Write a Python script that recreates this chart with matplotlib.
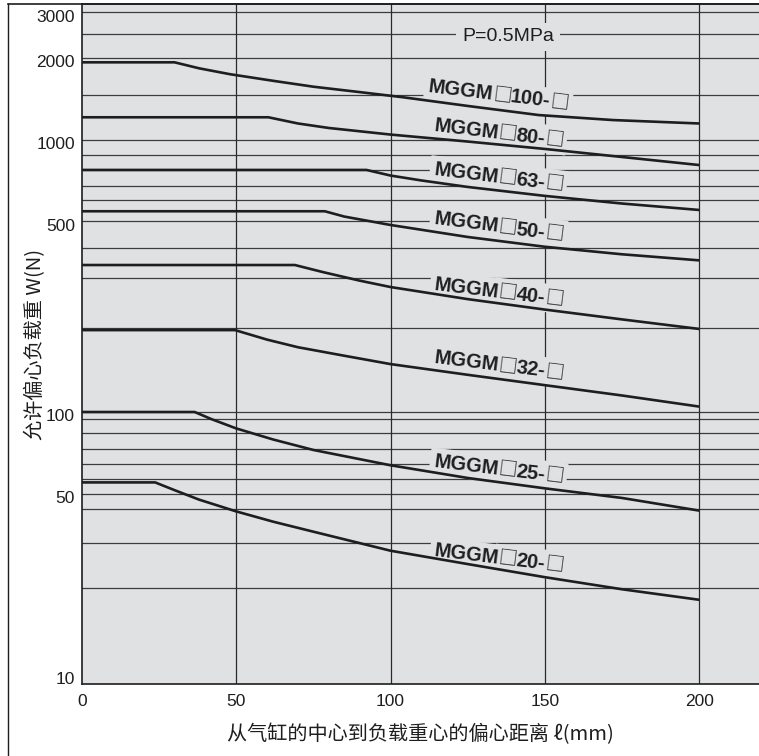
import numpy as np
import matplotlib
matplotlib.use("Agg")
import matplotlib.pyplot as plt
import matplotlib.transforms as mtransforms
from matplotlib.lines import Line2D

# ---- data (P=0.5MPa) ----
models = ["100", "80", "63", "50", "40", "32", "25", "20"]

x_100 = [0, 30, 38, 48, 62, 75, 90, 104, 125, 148, 172, 200]
w_100 = [1930, 1930, 1834, 1745, 1650, 1570, 1500, 1436, 1334, 1235, 1184, 1150]

x_80 = [0, 60.4, 70, 80, 100, 125, 150, 175, 200]
w_80 = [1212, 1212, 1150, 1107, 1047, 987, 927, 866, 809]

x_63 = [0, 92.2, 100, 110, 125, 150, 175, 200]
w_63 = [776, 776, 740, 710, 672, 623, 584, 553]

x_50 = [0, 78.7, 85, 100, 125, 150, 175, 200]
w_50 = [547, 547, 523, 487, 440, 405, 380, 361]

x_40 = [0, 69, 78, 90, 100, 125, 150, 175, 200]
w_40 = [347, 347, 327, 304, 288, 260, 238, 219, 202]

x_32 = [0, 49.6, 60, 70, 85, 100, 125, 150, 175, 200]
w_32 = [200, 200, 184.5, 173, 161, 150, 137, 125.5, 115, 104.7]

x_25 = [0, 36.5, 42, 50, 62, 75, 100, 125, 150, 175, 200]
w_25 = [100, 100, 94.1, 87, 79.2, 72.5, 63.7, 57.2, 52.4, 48.3, 43.4]

x_20 = [0, 23.7, 30, 38, 50, 62, 75, 100, 125, 150, 175, 200]
w_20 = [55.1, 55.1, 51.6, 47.6, 43.1, 39.5, 36.3, 30.9, 27.6, 24.7, 22.3, 20.4]

series_x = [x_100, x_80, x_63, x_50, x_40, x_32, x_25, x_20]
series_w = [w_100, w_80, w_63, w_50, w_40, w_32, w_25, w_20]

# label centre heights (W) for each curve name
label_w = [1463, 1061, 731, 479, 276, 148, 61.6, 29.0]

# horizontal rules of the printed grid (not at round values in the original)
hgrid = [2965, 2450, 2010, 1465, 1000, 880, 775, 680, 600, 505, 400, 310,
         203, 100, 94.5, 83.5, 73, 64.4, 56.6, 50, 43.9, 33, 22.5]
vgrid = [50, 100, 150, 200]

yticks = [10, 50, 100, 500, 1000, 2000, 3000]
xticks = [0, 50, 100, 150, 200]

bg = "#e0e1e3"
ink = "#1e1e1e"
latin = ["Liberation Sans", "DejaVu Sans"]
cjk = ["Noto Sans CJK SC", "DejaVu Sans"]

fig = plt.figure(figsize=(7.59, 7.56), dpi=100)
ax = fig.add_axes([82 / 759, 72 / 756, 677 / 759, 680 / 756])
ax.set_facecolor(bg)
ax.set_yscale("log")
ax.set_xlim(0, 219.4)
ax.set_ylim(10, 3162)

for v in hgrid:
    ax.axhline(v, color="#3c3c3c", lw=0.9, zorder=1)
for v in vgrid:
    ax.axvline(v, color="#2a2a2a", lw=0.9, zorder=1)

for xs, ws in zip(series_x, series_w):
    ax.plot(xs, ws, color=ink, lw=1.9, solid_capstyle="butt", solid_joinstyle="round", zorder=4)

# curve names: bold letters, thin open squares, written along a slight slope
renderer = fig.canvas.get_renderer()
ang = -7.0
ca, sa = np.cos(np.deg2rad(ang)), np.sin(np.deg2rad(ang))
box = dict(boxstyle="square,pad=0.2", facecolor=bg, edgecolor="none")


def curve_label(xc, wc, name):
    parts = [("MGGM", dict(family=latin, fontweight="bold", fontsize=14.5)),
             ("\u25a1", dict(family=cjk, fontweight="normal", fontsize=13.5)),
             (name + "-", dict(family=latin, fontweight="bold", fontsize=14.5)),
             ("\u25a1", dict(family=cjk, fontweight="normal", fontsize=13.5))]
    widths = []
    for s, kw in parts:
        t = ax.text(0, 0, s, **kw)
        widths.append(t.get_window_extent(renderer).width)
        t.remove()
    gap = -0.5
    pos = -(sum(widths) + gap * 3) / 2
    for (s, kw), wd in zip(parts, widths):
        dx = pos * ca + 5.5 * sa
        dy = pos * sa - 5.5 * ca
        tr = mtransforms.offset_copy(ax.transData, fig=fig, x=dx, y=dy, units="dots")
        # background patch first, glyphs on top so no piece hides another
        ax.text(xc, wc, s, transform=tr, rotation=ang, rotation_mode="anchor",
                ha="left", va="baseline", color="none", zorder=2.5, bbox=box, **kw)
        ax.text(xc, wc, s, transform=tr, rotation=ang, rotation_mode="anchor",
                ha="left", va="baseline", color=ink, zorder=3, **kw)
        pos += wd + gap


for name, wl in zip(models, label_w):
    curve_label(135, wl, name)

ax.text(138, 2392, "P=0.5MPa", fontsize=14, family=latin,
        color=ink, ha="center", va="center", zorder=3,
        bbox=dict(boxstyle="square,pad=0.3", facecolor=bg, edgecolor="none"))

ax.yaxis.set_minor_locator(matplotlib.ticker.NullLocator())
ax.set_yticks(yticks)
ax.set_yticklabels([str(t) for t in yticks])
ax.set_xticks(xticks)
ax.set_xticklabels([str(t) for t in xticks])
ax.tick_params(length=0, labelsize=12.5, colors=ink)
ax.tick_params(axis="x", pad=7)
ax.tick_params(axis="y", pad=5)
for lab in ax.get_xticklabels() + ax.get_yticklabels():
    lab.set_family(latin)

# the printed tick numbers sit a little below their rules
ydrop = {10: 6, 3000: -6}
for t, lab in zip(yticks, ax.get_yticklabels()):
    shift = mtransforms.ScaledTranslation(0, ydrop.get(t, -3) / 100, fig.dpi_scale_trans)
    lab.set_transform(lab.get_transform() + shift)

for side in ["left", "bottom", "top"]:
    ax.spines[side].set_color(ink)
    ax.spines[side].set_linewidth(1.2)
ax.spines["right"].set_visible(False)

ax.set_xlabel("从气缸的中心到负载重心的偏心距离 \u2113(mm)", fontsize=14.5, family=cjk, color=ink)
ax.xaxis.set_label_coords(0.5, -0.059)
ax.set_ylabel("允许偏心负载重 W(N)", fontsize=14.5, family=cjk, color=ink, va="center")
ax.yaxis.set_label_coords(-0.069, 0.5)

# outer frame of the figure panel
fig.add_artist(Line2D([8 / 759, 8 / 759], [0, 752 / 756], color=ink, lw=1.0))
fig.add_artist(Line2D([8 / 759, 1], [752 / 756, 752 / 756], color=ink, lw=1.2))

fig.savefig("out.png", dpi=100)
